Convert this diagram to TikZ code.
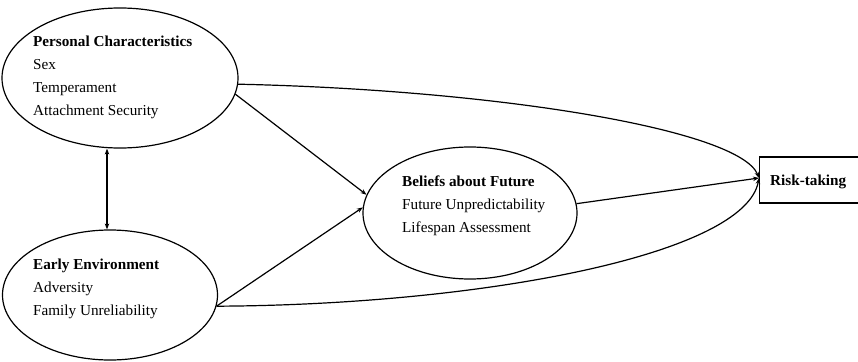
\documentclass[tikz,border=0pt]{standalone}
\usepackage{fontspec}
\setmainfont{Liberation Serif}
\usetikzlibrary{shapes.geometric,arrows.meta}
\begin{document}
\begin{tikzpicture}[x=1pt,y=-1pt,
  latent/.style={draw,ellipse,line width=1.2pt,inner sep=0pt},
  txt/.style={anchor=base west,align=left,inner sep=0pt,font=\fontsize{15.2}{23}\selectfont},
  conn/.style={line width=1.2pt},
  arr/.style={conn,-{Stealth[length=6pt,width=4.5pt]}},
  darr/.style={conn,{Stealth[length=6pt,width=4.5pt]}-{Stealth[length=6pt,width=4.5pt]}}]
\useasboundingbox (0,0) rectangle (858,361);
\node[latent,minimum width=236pt,minimum height=140pt] (P) at (120,78) {};
\node[latent,minimum width=215pt,minimum height=130pt] (E) at (110,295) {};
\node[latent,minimum width=214pt,minimum height=132pt] (B) at (470,213) {};
\node[draw,line width=1.2pt,rectangle,minimum width=110pt,minimum height=46pt,anchor=west,inner sep=0pt] (R) at (759,180) {};
\node[txt] (Pt) at (33,115) {\textbf{Personal Characteristics}\\Sex\\Temperament\\Attachment Security};
\node[txt] (Et) at (33,315) {\textbf{Early Environment}\\Adversity\\Family Unreliability};
\node[txt] (Bt) at (402,232) {\textbf{Beliefs about Future}\\Future Unpredictability\\Lifespan Assessment};
\node[txt] (Rt) at (770,185) {\textbf{Risk-taking}};
\coordinate (Rin) at (759,178);
\draw[arr] (P.-8) -- (B.170);
\draw[arr] (E.-6) -- (B.177);
\draw[arr] (B.5) -- (Rin);
\draw[arr] (P.-3) .. controls (500,90) and (740,130) .. (Rin);
\draw[arr] (E.-6) .. controls (480,305) and (745,255) .. (Rin);
\draw[darr] ([xshift=-13pt]P.south) -- ([xshift=-3pt]E.north);
\end{tikzpicture}
\end{document}
